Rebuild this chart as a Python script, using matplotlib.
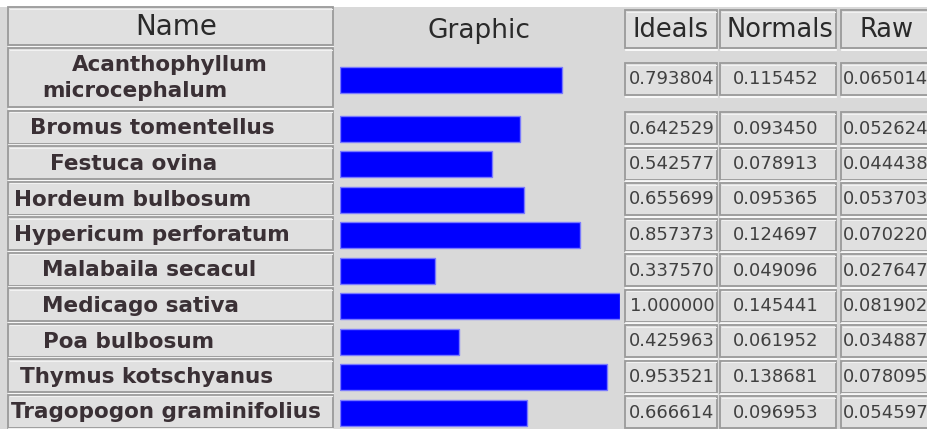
import matplotlib
matplotlib.use("Agg")
import matplotlib.pyplot as plt
from matplotlib.patches import Rectangle

# table content
names = ["Acanthophyllum\nmicrocephalum", "Bromus tomentellus", "Festuca ovina",
         "Hordeum bulbosum", "Hypericum perforatum", "Malabaila secacul",
         "Medicago sativa", "Poa bulbosum", "Thymus kotschyanus",
         "Tragopogon graminifolius"]
ideals = [0.793804, 0.642529, 0.542577, 0.655699, 0.857373, 0.337570,
          1.000000, 0.425963, 0.953521, 0.666614]
normals = [0.115452, 0.093450, 0.078913, 0.095365, 0.124697, 0.049096,
           0.145441, 0.061952, 0.138681, 0.096953]
raws = [0.065014, 0.052624, 0.044438, 0.053703, 0.070220, 0.027647,
        0.081902, 0.034887, 0.078095, 0.054597]
headers = ["Name", "Graphic", "Ideals", "Normals", "Raw"]

# layout (pixels)
W, H = 928, 429
row_y = [79.5] + [128.5 + 35.5 * i for i in range(len(names) - 1)]
name_x = [0, 30, 50, 14, 14, 42, 42, 43, 20, 11]
BG = "#d9d9d9"
CELL = "#e0e0e0"
EDGE = "#9a9a9a"
TXT = "#3a3035"
NAME_FS = 15.5


def cell(ax, x0, y0, x1, y1):
    ax.add_patch(Rectangle((x0, y0), x1 - x0, y1 - y0, facecolor=CELL,
                           edgecolor=EDGE, linewidth=1.3, zorder=2))
    ax.plot([x0 + 1, x1], [y1 + 1.5, y1 + 1.5], color="white", lw=1.2, zorder=2)
    ax.plot([x0 + 2, x1 - 1], [y0 + 1.5, y0 + 1.5], color="#f2f2f2", lw=0.8, zorder=3)


fig = plt.figure(figsize=(W / 100, H / 100), dpi=100)
fig.patch.set_facecolor(BG)
ax = fig.add_axes([0, 0, 1, 1])
ax.set_xlim(0, W)
ax.set_ylim(H, 0)
ax.axis("off")
ax.add_patch(Rectangle((0, 0), W, 7, facecolor="white", edgecolor="none", zorder=1))

# header row
cell(ax, 8, 7, 333, 45)
ax.text(176, 27, headers[0], ha="center", va="center", fontsize=20,
        color="#2a2a2a", family="DejaVu Sans", zorder=4)
ax.text(479, 31, headers[1], ha="center", va="center", fontsize=19,
        color="#2a2a2a", family="DejaVu Sans", zorder=4)
cols = [(625, 717), (720, 836), (841, 945)]
head_x = [671, 780, 887]
for (x0, x1), hx, label in zip(cols, head_x, headers[2:]):
    cell(ax, x0, 10, x1, 48)
    ax.text(hx, 30, label, ha="center", va="center", fontsize=18.5,
            color="#2a2a2a", family="DejaVu Sans", zorder=4)

# name column and value cells
for i, (nm, yc) in enumerate(zip(names, row_y)):
    if i == 0:
        cell(ax, 8, 48, 333, 107)
        ax.text(72, 65, nm.split("\n")[0], ha="left", va="center", fontsize=NAME_FS,
                fontweight="bold", color=TXT, zorder=4)
        ax.text(42, 91, nm.split("\n")[1], ha="left", va="center", fontsize=NAME_FS,
                fontweight="bold", color=TXT, zorder=4)
    else:
        cell(ax, 8, yc - 18, 333, yc + 15)
        ax.text(name_x[i], yc, nm, ha="left", va="center",
                fontsize=NAME_FS, fontweight="bold", color=TXT, zorder=4)
    for (x0, x1) in cols:
        cell(ax, x0, yc - 16.5, x1, yc + 15.5)
    ax.text(672, yc, f"{ideals[i]:.6f}", ha="center", va="center",
            fontsize=13, color="#404040", zorder=4)
    ax.text(776, yc, f"{normals[i]:.6f}", ha="center", va="center",
            fontsize=13, color="#404040", zorder=4)
    ax.text(843, yc, f"{raws[i]:.6f}", ha="left", va="center",
            fontsize=13, color="#404040", zorder=4)

# bar column
bax = fig.add_axes([340 / W, 0, 280 / W, 1])
bax.set_xlim(0, 1)
bax.set_ylim(H, 0)
bax.axis("off")
bax.barh(row_y, ideals, height=26, left=0, color="#0000ff",
         edgecolor="#7a7aff", linewidth=1)

fig.savefig("out.png", dpi=100, facecolor=BG)
